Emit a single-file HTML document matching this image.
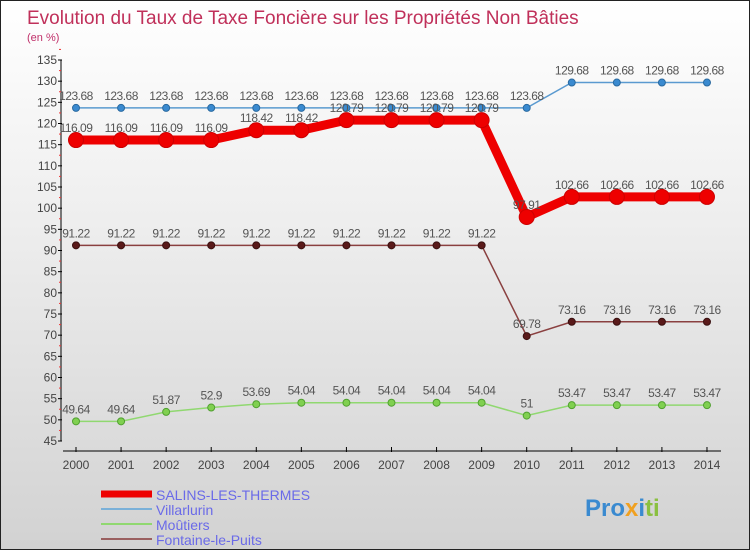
<!DOCTYPE html>
<html><head><meta charset="utf-8"><style>
body{margin:0}
#c{width:750px;height:550px;position:relative;box-sizing:border-box;border:1px solid #222;background:linear-gradient(#fff 0%,#eee 40%,#d2d2d2 100%);font-family:"Liberation Sans",sans-serif;overflow:hidden}
</style></head><body>
<div id="c">
<svg id="s" width="750" height="550" style="position:absolute;left:0;top:0">
<text x="26" y="23" font-size="19" fill="#c0305a">Evolution du Taux de Taxe Foncière sur les Propriétés Non Bâties</text>
<text x="26" y="40" font-size="11" fill="#c0306a">(en %)</text>
<g id="ax"></g><g id="ser"></g>
<g>
<line x1="100" y1="493" x2="151" y2="493" stroke="#e00" stroke-width="7"/>
<text x="155" y="499" font-size="14" fill="#6a6ae8">SALINS-LES-THERMES</text>
<line x1="100" y1="508" x2="151" y2="508" stroke="#7ab0d8" stroke-width="2"/>
<text x="155" y="514" font-size="14" fill="#6a6ae8">Villarlurin</text>
<line x1="100" y1="523" x2="151" y2="523" stroke="#90d870" stroke-width="2"/>
<text x="155" y="529" font-size="14" fill="#6a6ae8">Moûtiers</text>
<line x1="100" y1="538" x2="151" y2="538" stroke="#9a6060" stroke-width="2"/>
<text x="155" y="544" font-size="14" fill="#6a6ae8">Fontaine-le-Puits</text>
</g>
<text x="584" y="515" font-size="24" font-weight="bold"><tspan fill="#3a8ad0">Pro</tspan><tspan fill="#f0a020">x</tspan><tspan fill="#3a8ad0">i</tspan><tspan fill="#8ac040">ti</tspan></text>
</svg>
</div>
<script>
const years=[2000,2001,2002,2003,2004,2005,2006,2007,2008,2009,2010,2011,2012,2013,2014];
const yTicks=[45,50,55,60,65,70,75,80,85,90,95,100,105,110,115,120,125,130,135];
const salins=[116.09,116.09,116.09,116.09,118.42,118.42,120.79,120.79,120.79,120.79,97.91,102.66,102.66,102.66,102.66];
const villarlurin=[123.68,123.68,123.68,123.68,123.68,123.68,123.68,123.68,123.68,123.68,123.68,129.68,129.68,129.68,129.68];
const moutiers=[49.64,49.64,51.87,52.9,53.69,54.04,54.04,54.04,54.04,54.04,51,53.47,53.47,53.47,53.47];
const fontaine=[91.22,91.22,91.22,91.22,91.22,91.22,91.22,91.22,91.22,91.22,69.78,73.16,73.16,73.16,73.16];
const NS="http://www.w3.org/2000/svg";
const xs=i=>75+i*45.07;
const ys=v=>440-(v-45)*(381/90);
function mk(t,a,p){const e=document.createElementNS(NS,t);for(const k in a)e.setAttribute(k,a[k]);p.appendChild(e);return e;}
const ax=document.getElementById('ax');
const yl=mk('line',{x1:60,y1:59,x2:60,y2:440,stroke:'#000'},ax);


yTicks.forEach(v=>{
 mk('line',{x1:57,y1:ys(v),x2:61,y2:ys(v),stroke:'#000'},ax);
 mk('line',{x1:58,y1:ys(v+2.5),x2:60,y2:ys(v+2.5),stroke:'#e33'},ax);
 const t=mk('text',{x:56,y:ys(v)+4,'font-size':12,fill:'#444','text-anchor':'end'},ax);t.textContent=v;
 
 
});
const xl=mk('line',{x1:62,y1:450,x2:720,y2:450,stroke:'#000'},ax);


years.forEach((y,i)=>{
 mk('line',{x1:xs(i),y1:446,x2:xs(i),y2:451,stroke:'#000'},ax);
 const t=mk('text',{x:xs(i),y:468,'font-size':12,fill:'#444','text-anchor':'middle'},ax);t.textContent=y;
 
 
});
const ser=document.getElementById('ser');
function draw(vals,name,col,mcol,w,r,fill){
 const g=mk('g',{},ser);
 
 
 mk('polyline',{points:vals.map((v,i)=>xs(i)+','+ys(v)).join(' '),fill:'none',stroke:col,'stroke-width':w},g);
 vals.forEach((v,i)=>{
  const c=mk('circle',{cx:xs(i),cy:ys(v),r:r,fill:fill,stroke:mcol,'stroke-width':1},g);
  
  
  const t=mk('text',{x:xs(i),y:ys(v)-8,'font-size':12,fill:'#555','text-anchor':'middle','letter-spacing':'-0.5'},g);t.textContent=v;
  
  
 });
}
draw(villarlurin,'villarlurin','#5a9ad0','#2a6aa0',1.5,3.5,'#3a8ad0');
draw(fontaine,'fontaine','#8a4040','#3a1010',1.5,3.5,'#5a1a1a');
draw(moutiers,'moutiers','#90d870','#50a030',1.5,3.5,'#80d050');
draw(salins,'salins','#e00','#c00',9,7.5,'#e00');
</script>
</body></html>
